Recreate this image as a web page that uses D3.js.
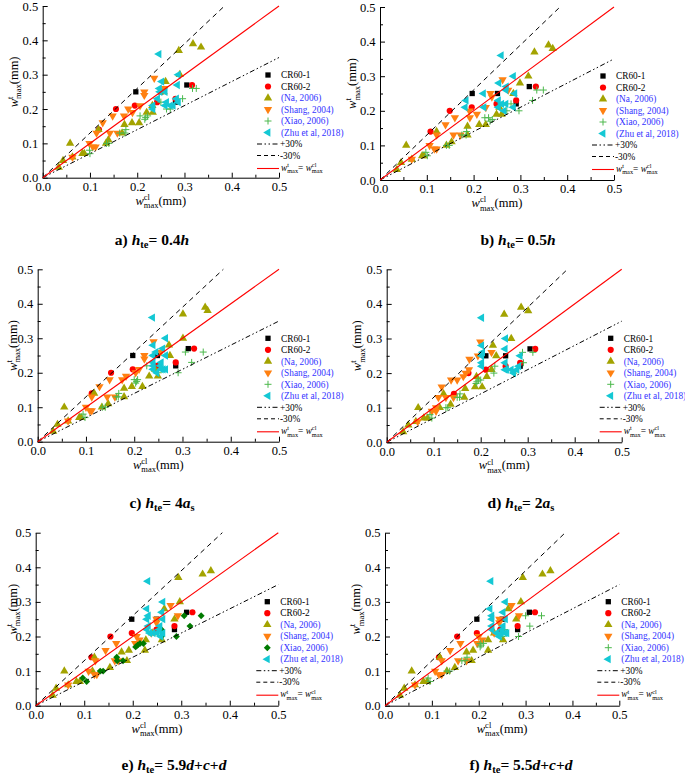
<!DOCTYPE html>
<html><head><meta charset="utf-8">
<script src="https://cdn.jsdelivr.net/npm/d3@7"></script>
<style>
body{margin:0;background:#fff}
svg{display:block}
svg text{font-family:"Liberation Serif","Times New Roman",Times,"DejaVu Serif",serif !important}
</style>
</head><body>
<svg id="chart" width="685" height="775"></svg>
<script>
// ---------------- DATA ----------------
const panelIds = ["a","b","c","d","e","f"];
const tickVals = [0, 0.1, 0.2, 0.3, 0.4, 0.5];
const tickLabels = ["0.0","0.1","0.2","0.3","0.4","0.5"];
const minorTickVals = [0.05, 0.15, 0.25, 0.35, 0.45];

// measured (test) crack widths, shared by all panels
const cr1Test   = [0.25,0.25,0.27,0.22];
const cr2Test   = [0.20,0.21,0.14,0.27,0.23,0.22];
const naTest    = [0.03,0.05,0.06,0.07,0.07,0.10,0.10,0.11,0.13,0.14,0.155,0.16,0.16,0.19,0.19,0.21,0.25,0.28,0.30,0.37,0.39,0.38];
const shangTest = [0.06,0.09,0.09,0.10,0.13,0.13,0.13,0.16,0.18,0.18,0.19,0.20,0.21,0.24,0.25,0.26,0.29];
const xiaoTest  = [0.07,0.08,0.10,0.10,0.13,0.13,0.14,0.17,0.175,0.18,0.18,0.20,0.22,0.20,0.23,0.26,0.26];
const zhuTest   = [0.20,0.21,0.21,0.21,0.21,0.22,0.22,0.23,0.23,0.25,0.25,0.26,0.27,0.28,0.30,0.36];

// calculated crack widths per panel (same order as the test arrays)
const cr1Calc = {
  a:[0.197,0.250,0.305,0.281], b:[0.197,0.251,0.319,0.291], c:[0.197,0.248,0.312,0.286],
  d:[0.211,0.253,0.305,0.284], e:[0.198,0.249,0.311,0.286], f:[0.196,0.250,0.308,0.283]
};
const cr2Calc = {
  a:[0.155,0.195,0.119,0.316,0.281,0.242], b:[0.149,0.196,0.108,0.333,0.291,0.249],
  c:[0.152,0.197,0.112,0.324,0.286,0.247], d:[0.174,0.211,0.143,0.316,0.284,0.253],
  e:[0.154,0.198,0.115,0.323,0.286,0.249], f:[0.154,0.196,0.115,0.320,0.283,0.246]
};
const naCalc = {
  a:[0.034,0.043,0.063,0.084,0.088,0.058,0.134,0.139,0.168,0.118,0.173,0.189,0.204,0.220,0.233,0.232,0.256,0.260,0.290,0.288,0.318,0.335],
  b:[0.036,0.045,0.068,0.090,0.094,0.056,0.142,0.153,0.187,0.121,0.187,0.212,0.226,0.249,0.260,0.255,0.285,0.299,0.317,0.330,0.360,0.369],
  c:[0.032,0.041,0.063,0.086,0.090,0.055,0.133,0.146,0.179,0.117,0.179,0.195,0.217,0.231,0.249,0.243,0.274,0.272,0.301,0.301,0.347,0.352],
  d:[0.035,0.046,0.062,0.079,0.087,0.067,0.113,0.136,0.165,0.121,0.167,0.188,0.203,0.191,0.213,0.223,0.233,0.226,0.265,0.250,0.286,0.301],
  e:[0.035,0.042,0.067,0.084,0.091,0.059,0.117,0.153,0.188,0.121,0.177,0.192,0.225,0.227,0.260,0.240,0.286,0.265,0.297,0.294,0.361,0.344],
  f:[0.032,0.041,0.064,0.082,0.090,0.057,0.132,0.149,0.185,0.117,0.174,0.188,0.220,0.220,0.252,0.233,0.280,0.263,0.290,0.294,0.353,0.336]
};
const shangCalc = {
  a:[0.063,0.106,0.112,0.099,0.114,0.142,0.158,0.127,0.148,0.172,0.190,0.181,0.206,0.215,0.215,0.258,0.236],
  b:[0.068,0.116,0.121,0.106,0.121,0.157,0.172,0.140,0.160,0.192,0.207,0.191,0.226,0.239,0.236,0.274,0.262],
  c:[0.063,0.108,0.112,0.100,0.112,0.144,0.160,0.128,0.149,0.175,0.183,0.203,0.210,0.221,0.221,0.255,0.240],
  d:[0.066,0.096,0.105,0.105,0.110,0.126,0.142,0.117,0.137,0.150,0.163,0.168,0.175,0.176,0.194,0.223,0.199],
  e:[0.067,0.121,0.126,0.109,0.123,0.163,0.170,0.144,0.166,0.205,0.214,0.208,0.238,0.249,0.249,0.293,0.278],
  f:[0.064,0.115,0.121,0.107,0.121,0.156,0.174,0.139,0.161,0.197,0.208,0.200,0.233,0.244,0.244,0.286,0.270]
};
const xiaoCalc = {
  a:[0.100,0.099,0.135,0.140,0.163,0.174,0.176,0.216,0.218,0.206,0.222,0.262,0.250,0.270,0.296,0.317,0.325],
  b:[0.101,0.098,0.142,0.148,0.175,0.184,0.185,0.235,0.240,0.224,0.232,0.271,0.280,0.297,0.326,0.335,0.349],
  c:[0.098,0.094,0.134,0.140,0.163,0.167,0.168,0.203,0.205,0.200,0.207,0.250,0.226,0.291,0.319,0.306,0.343],
  d:[0.096,0.092,0.126,0.130,0.150,0.155,0.156,0.190,0.192,0.195,0.200,0.228,0.230,0.270,0.291,0.289,0.311],
  e:[0.105,0.097,0.133,0.139,0.168,0.180,0.167,0.206,0.210,0.215,0.222,0.259,0.259,0.290,0.318,0.306,0.341],
  f:[0.096,0.092,0.132,0.138,0.164,0.171,0.175,0.203,0.205,0.203,0.210,0.250,0.255,0.285,0.309,0.300,0.334]
};
const zhuCalc = {
  a:[0.233,0.233,0.259,0.276,0.270,0.287,0.262,0.243,0.283,0.259,0.248,0.247,0.285,0.252,0.287,0.246],
  b:[0.265,0.182,0.222,0.253,0.285,0.269,0.260,0.184,0.253,0.221,0.288,0.269,0.270,0.254,0.285,0.259],
  c:[0.247,0.256,0.260,0.265,0.239,0.239,0.254,0.239,0.256,0.239,0.265,0.245,0.259,0.239,0.265,0.238],
  d:[0.270,0.252,0.277,0.265,0.255,0.202,0.281,0.202,0.252,0.202,0.284,0.204,0.252,0.202,0.253,0.202],
  e:[0.258,0.242,0.262,0.250,0.235,0.229,0.255,0.256,0.232,0.229,0.262,0.232,0.260,0.229,0.262,0.231],
  f:[0.244,0.238,0.256,0.260,0.248,0.228,0.250,0.252,0.228,0.228,0.257,0.228,0.252,0.224,0.257,0.226]
};

const seriesNames = ["CR60-1","CR60-2","(Na, 2006)","(Shang, 2004)","(Xiao, 2006)","(Zhu et al, 2018)"];
const bandSlopes = [0.7, 1.3];          // +30% , -30%
const bandLabels = ["+30%","-30%"];

// titles: plain / italic / subscript pieces
const panelTitles = {
  a:[["n","a) "],["i","h"],["s","te"],["n","= 0.4"],["i","h"]],
  b:[["n","b) "],["i","h"],["s","te"],["n","= 0.5"],["i","h"]],
  c:[["n","c) "],["i","h"],["s","te"],["n","= 4"],["i","a"],["s","s"]],
  d:[["n","d) "],["i","h"],["s","te"],["n","= 2"],["i","a"],["s","s"]],
  e:[["n","e) "],["i","h"],["s","te"],["n","= 5.9"],["i","d"],["n","+"],["i","c"],["n","+"],["i","d"]],
  f:[["n","f) "],["i","h"],["s","te"],["n","= 5.5"],["i","d"],["n","+"],["i","c"],["n","+"],["i","d"]]
};

// ---------------- LAYOUT / STYLE ----------------
const FONT = '"Liberation Serif","Times New Roman",Times,"DejaVu Serif",serif';
const layout = {
  a:{L:42.7,R:279,B:177.7,T:6,    tx:152,ty:245, yl:17.5},
  b:{L:380, R:614,B:180,  T:7,    tx:518,ty:245, yl:356},
  c:{L:37.7,R:279,B:441.7,T:269.3,tx:162,ty:508, yl:16.5},
  d:{L:386.7,R:621.7,B:442.3,T:269.3,tx:521,ty:508, yl:361},
  e:{L:35.7,R:278.3,B:705.7,T:532.7,tx:174,ty:770, yl:16.5},
  f:{L:385, R:619.3,B:705.7,T:532.7,tx:521,ty:770, yl:360}
};
const seriesStyle = [
  {shape:"square",   color:"#000000", text:"#000000"},
  {shape:"circle",   color:"#ff0000", text:"#000000"},
  {shape:"triUp",    color:"#a3a300", text:"#3333ff"},
  {shape:"triDown",  color:"#ff8011", text:"#3333ff"},
  {shape:"plus",     color:"#4cb84c", text:"#3333ff"},
  {shape:"triLeft",  color:"#14c8d4", text:"#3333ff"}
];
const testArrays = [cr1Test, cr2Test, naTest, shangTest, xiaoTest, zhuTest];
const calcArrays = [cr1Calc, cr2Calc, naCalc, shangCalc, xiaoCalc, zhuCalc];

function marker(g, shape, color){
  switch(shape){
    case "square": g.append("path").attr("d", d3.symbol(d3.symbolSquare, 28)()).attr("fill", color); break;
    case "circle": g.append("path").attr("d", d3.symbol(d3.symbolCircle, 30)()).attr("fill", color); break;
    case "triUp":  g.append("path").attr("d", d3.symbol(d3.symbolTriangle, 30)()).attr("fill", color); break;
    case "triDown":g.append("path").attr("d", d3.symbol(d3.symbolTriangle, 30)()).attr("fill", color).attr("transform","rotate(180)"); break;
    case "triLeft":g.append("path").attr("d", d3.symbol(d3.symbolTriangle, 30)()).attr("fill", color).attr("transform","rotate(-90)"); break;
    case "diamond":g.append("path").attr("d", d3.symbol(d3.symbolSquare, 24)()).attr("fill", color).attr("transform","rotate(45)"); break;
    case "plus":   g.append("path").attr("d","M-3.5,0H3.5M0,-3.5V3.5").attr("stroke", color).attr("stroke-width",1).attr("fill","none"); break;
  }
}

// w with stacked superscript / "max" subscript
function wText(text, fs, sup, tail){
  const small = fs*0.68;
  text.append("tspan").attr("font-style","italic").text("w");
  const s = text.append("tspan").attr("font-size", small).attr("dy", -fs*0.38).text(sup);
  const sl = s.node().getComputedTextLength();
  const m = text.append("tspan").attr("font-size", small).attr("dx", -sl).attr("dy", fs*0.68).text("max");
  const ml = m.node().getComputedTextLength();
  const extra = Math.max(0, sl - ml);
  const t = text.append("tspan").attr("dy", -fs*0.30).attr("dx", extra);
  t.text(tail);
  return t;
}

const svg = d3.select("#chart");
const dashDot = "5,2.5,1.5,2.5,1.5,2.5";
const LFS = 9.3;

panelIds.forEach(pid => {
  const P = layout[pid];
  const x = d3.scaleLinear().domain([0,0.5]).range([P.L, P.R]);
  const y = d3.scaleLinear().domain([0,0.5]).range([P.B, P.T]);
  const g = svg.append("g").attr("font-family", FONT);

  // axes
  const xAxis = d3.axisBottom(x).tickValues(tickVals).tickFormat((d,i)=>tickLabels[i]).tickSizeInner(-5).tickSizeOuter(0).tickPadding(4.5);
  const yAxis = d3.axisLeft(y).tickValues(tickVals).tickFormat((d,i)=>tickLabels[i]).tickSizeInner(-5).tickSizeOuter(0).tickPadding(4.5);
  g.append("g").attr("transform",`translate(0,${P.B})`).call(xAxis);
  g.append("g").attr("transform",`translate(${P.L},0)`).call(yAxis);
  g.append("g").attr("transform",`translate(0,${P.B})`)
    .call(d3.axisBottom(x).tickValues(minorTickVals).tickFormat("").tickSizeInner(-3).tickSizeOuter(0))
    .select(".domain").remove();
  g.append("g").attr("transform",`translate(${P.L},0)`)
    .call(d3.axisLeft(y).tickValues(minorTickVals).tickFormat("").tickSizeInner(-3).tickSizeOuter(0))
    .select(".domain").remove();
  g.selectAll("g").attr("font-family", FONT);
  g.selectAll(".tick text").attr("font-family", FONT).attr("font-size",12.5).attr("fill","#000");
  g.selectAll(".domain, .tick line").attr("stroke","#000").attr("stroke-width",1);

  // points
  calcArrays.forEach((calc, si) => {
    const st = seriesStyle[si];
    const shape = (pid === "e" && si === 4) ? "diamond" : st.shape;
    const color = (pid === "e" && si === 4) ? "#007a00" : st.color;
    testArrays[si].forEach((t,i) => {
      const mg = g.append("g").attr("transform",`translate(${x(calc[pid][i])},${y(t)})`);
      marker(mg, shape, color);
    });
  });

  // reference lines
  const line = d3.line().x(d=>x(d[0])).y(d=>y(d[1]));
  const lower = [[0,0],[0.5, 0.5*bandSlopes[0]]];
  const upper = [[0,0],[0.5/bandSlopes[1], 0.5]];
  g.append("path").attr("d", line(lower)).attr("stroke","#000").attr("stroke-width",1).attr("fill","none").attr("stroke-dasharray",dashDot);
  g.append("path").attr("d", line(upper)).attr("stroke","#000").attr("stroke-width",1).attr("fill","none").attr("stroke-dasharray","5,4");
  g.append("path").attr("d", line([[0,0],[0.5,0.5]])).attr("stroke","#ff0000").attr("stroke-width",1.1).attr("fill","none");

  // axis titles
  const xt = g.append("text").attr("x",(P.L+P.R)/2).attr("y",P.B+27).attr("text-anchor","middle").attr("font-size",12.5);
  wText(xt, 12.5, "cl", "(mm)");
  const ytg = g.append("g").attr("transform",`translate(${P.yl},${(P.T+P.B)/2-10}) rotate(-90)`);
  const yt = ytg.append("text").attr("text-anchor","middle").attr("font-size",12.5);
  wText(yt, 12.5, "t", "(mm)");

  // legend
  const lx = P.R - 22, ly0 = P.T + 69, dyL = 11.5;
  seriesNames.forEach((nm, si) => {
    const st = seriesStyle[si];
    const shape = (pid === "e" && si === 4) ? "diamond" : st.shape;
    const color = (pid === "e" && si === 4) ? "#007a00" : st.color;
    const yy = ly0 + si*dyL;
    marker(g.append("g").attr("transform",`translate(${lx+11},${yy})`), shape, color);
    g.append("text").attr("x",lx+24).attr("y",yy+3.2).attr("font-size",LFS).attr("fill",st.text).text(nm);
  });
  const yPlus = ly0 + 6*dyL, yMinus = ly0 + 7*dyL, yRed = ly0 + 8*dyL + 1.5;
  g.append("line").attr("x1",lx).attr("x2",lx+22).attr("y1",yPlus).attr("y2",yPlus).attr("stroke","#000").attr("stroke-dasharray",dashDot);
  g.append("text").attr("x",lx+23).attr("y",yPlus+3.2).attr("font-size",LFS).text(bandLabels[0]);
  g.append("line").attr("x1",lx).attr("x2",lx+22).attr("y1",yMinus).attr("y2",yMinus).attr("stroke","#000").attr("stroke-dasharray","4,3");
  g.append("text").attr("x",lx+23).attr("y",yMinus+3.2).attr("font-size",LFS).text(bandLabels[1]);
  g.append("line").attr("x1",lx).attr("x2",lx+22).attr("y1",yRed).attr("y2",yRed).attr("stroke","#ff0000").attr("stroke-width",1.1);
  const lt = g.append("text").attr("x",lx+24).attr("y",yRed+2).attr("font-size",LFS);
  wText(lt, LFS, "t", "= ");
  lt.append("tspan").attr("font-style","italic").text("w");
  const s2 = lt.append("tspan").attr("font-size",LFS*0.68).attr("dy",-LFS*0.38).text("cl");
  const sl2 = s2.node().getComputedTextLength();
  lt.append("tspan").attr("font-size",LFS*0.68).attr("dx",-sl2).attr("dy",LFS*0.68).text("max");

  // panel title
  const tt = svg.append("text").attr("x",P.tx).attr("y",P.ty).attr("text-anchor","middle")
    .attr("font-family", FONT).attr("font-size",15.5).attr("font-weight","bold");
  let sub = false;
  panelTitles[pid].forEach(([k, s]) => {
    const ts = tt.append("tspan").text(s);
    if (k === "i") ts.attr("font-style","italic");
    if (k === "s") { ts.attr("font-size",10.5).attr("dy",3); sub = true; }
    else if (sub) { ts.attr("dy",-3); sub = false; }
  });
});
</script>
</body></html>
